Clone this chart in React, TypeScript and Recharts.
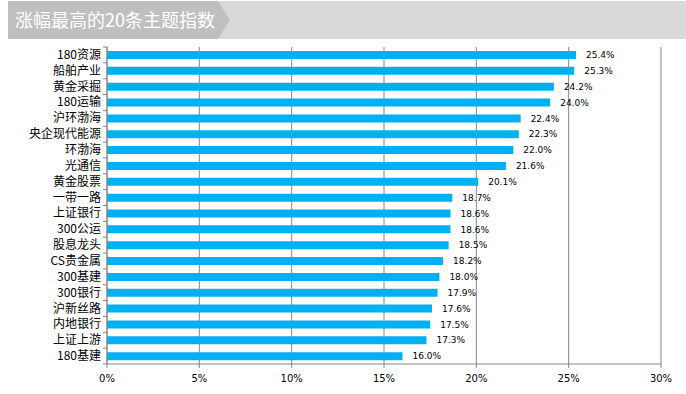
import React from 'react';
import { BarChart, Bar, XAxis, YAxis, CartesianGrid, LabelList } from 'recharts';

const categories = [
  '180资源', '船舶产业', '黄金采掘', '180运输', '沪环渤海', '央企现代能源', '环渤海', '光通信', '黄金股票', '一带一路',
  '上证银行', '300公运', '股息龙头', 'CS贵金属', '300基建', '300银行', '沪新丝路', '内地银行', '上证上游', '180基建',
];
const gains = [25.4, 25.3, 24.2, 24.0, 22.4, 22.3, 22.0, 21.6, 20.1, 18.7, 18.6, 18.6, 18.5, 18.2, 18.0, 17.9, 17.6, 17.5, 17.3, 16.0];
const xTicks = [0, 5, 10, 15, 20, 25, 30];

const data = categories.map((name, i) => ({ name, value: gains[i] }));

const W = 686;
const H = 394;
const TOP = 47;
const BOTTOM_AXIS = 30;
const GRID = '#868686';
const CJK = '"Noto Sans CJK SC", "Noto Sans", sans-serif';
const band = (H - TOP - BOTTOM_AXIS) / categories.length;

// label plus a small tick between categories, Excel style
function CategoryTick(props: any) {
  const { x, y, payload } = props;
  const axisX = x + 8;
  return (
    <g>
      <line x1={axisX - 4} x2={axisX} y1={y - band / 2} y2={y - band / 2} stroke={GRID} />
      {payload.index === categories.length - 1 && (
        <line x1={axisX - 4} x2={axisX} y1={y + band / 2} y2={y + band / 2} stroke={GRID} />
      )}
      <text x={x + 2} y={y} dy={4} textAnchor="end" fontSize={12} fill="#000" fontFamily={CJK}>
        {payload.value}
      </text>
    </g>
  );
}

export default function App() {
  return (
    <div style={{ position: 'fixed', left: 0, top: 0, width: W, height: H, background: '#fff' }}>
      <svg width={W} height={42} style={{ position: 'absolute', left: 0, top: 0 }}>
        <rect x={8} y={1} width={W - 8} height={38} fill="#d9d9d9" />
        <polygon points="8,1 218,1 230,20 218,39 8,39" fill="#bfbfbf" />
        <text x={15} y={27} fontSize={18} fill="#fff" fontFamily={CJK}>涨幅最高的20条主题指数</text>
      </svg>
      <div style={{ position: 'absolute', left: 0, top: 0 }}>
        <BarChart
          width={W}
          height={H}
          data={data}
          layout="vertical"
          margin={{ top: TOP, right: 25, left: 0, bottom: 0 }}
        >
          <CartesianGrid horizontal={false} stroke={GRID} />
          <XAxis
            type="number"
            domain={[0, 30]}
            ticks={xTicks}
            tickFormatter={(v) => `${v}%`}
            height={BOTTOM_AXIS}
            stroke={GRID}
            tickSize={4}
            tickMargin={7}
            tick={{ fontSize: 10, fill: '#000', fontFamily: 'DejaVu Sans' }}
          />
          <YAxis
            type="category"
            dataKey="name"
            width={107}
            stroke={GRID}
            tickLine={false}
            interval={0}
            tick={<CategoryTick />}
          />
          <Bar dataKey="value" fill="#00b0f0" barSize={8} isAnimationActive={false}>
            <LabelList
              dataKey="value"
              position="right"
              offset={10}
              formatter={(v: any) => `${Number(v).toFixed(1)}%`}
              style={{ fontSize: 9, fill: '#000', fontFamily: 'DejaVu Sans' }}
            />
          </Bar>
        </BarChart>
      </div>
    </div>
  );
}
